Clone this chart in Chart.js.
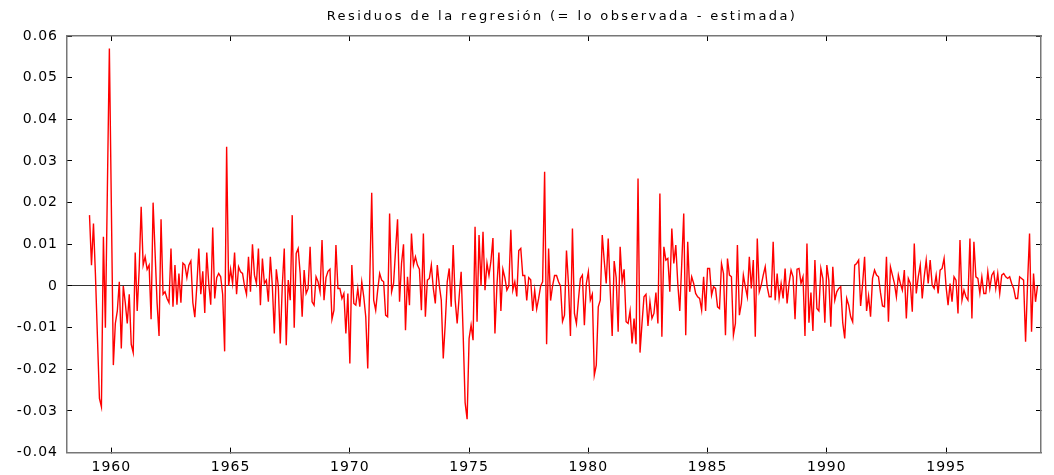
<!DOCTYPE html>
<html>
<head>
<meta charset="utf-8">
<script src="https://cdn.jsdelivr.net/npm/chart.js@4.4.1/dist/chart.umd.min.js"></script>
<style>
    html, body { margin: 0; padding: 0; background: #fff; }
</style>
</head>
<body>
<canvas id="residChart" width="1054" height="475"></canvas>
<script>
// ── data ──────────────────────────────────────────────
const chartTitle = 'Residuos de la regresión (= lo observada - estimada)';
const startYear = 1959;
const startMonth = 2;

// monthly residuals, one row per 12 months
const residuals = [
    0.017, 0.005, 0.015, 0.0026, -0.0124, -0.027, -0.029, 0.0118, -0.010, 0.0234, 0.057, 0.019,
    -0.019, -0.009, -0.006, 0.001, -0.015, 0.000, -0.004, -0.009, -0.002, -0.014, -0.016, 0.008,
    -0.006, 0.004, 0.019, 0.005, 0.007, 0.004, 0.005, -0.008, 0.020, 0.008, -0.004, -0.012,
    0.016, -0.002, -0.0014, -0.003, -0.004, 0.009, -0.005, 0.005, -0.0045, 0.003, -0.004, 0.0055,
    0.005, 0.002, 0.005, 0.006, -0.004, -0.0075, 0.0, 0.009, -0.002, 0.0035, -0.0065, 0.008,
    0.0006, -0.0045, 0.014, -0.003, 0.002, 0.003, 0.0022, -0.002, -0.0157, 0.0334, 0.0, 0.004,
    0.0006, 0.008, -0.002, 0.0046, 0.0034, 0.003, 0.0, -0.002, 0.007, -0.0014, 0.010, 0.0026,
    0.0006, 0.009, -0.0046, 0.0066, 0.0006, 0.0014, -0.0038, 0.007, 0.0, -0.0114, 0.004, 0.0,
    -0.0138, 0.0, 0.009, -0.0142, 0.0014, -0.0034, 0.017, -0.010, 0.0078, 0.009, 0.003, -0.0074,
    0.0038, -0.0018, -0.0006, 0.0094, -0.0038, -0.0046, 0.0022, 0.001, -0.0014, 0.011, -0.0034, 0.002,
    0.0035, 0.004, -0.008, -0.0058, 0.0098, -0.0006, -0.0006, -0.003, -0.0018, -0.0114, -0.0018, -0.0186,
    0.005, -0.0042, -0.0046, -0.0006, -0.005, 0.001, -0.0026, -0.0074, -0.0198, 0.001, 0.0224, -0.0034,
    -0.0058, -0.001, 0.003, 0.0014, 0.001, -0.007, -0.0074, 0.0174, -0.0014, 0.0006, 0.0086, 0.016,
    -0.0038, 0.0054, 0.010, -0.0106, 0.0022, -0.0046, 0.0126, 0.005, 0.007, 0.005, 0.004, -0.0058,
    0.0126, -0.0074, 0.0014, 0.0018, 0.005, -0.0006, -0.0042, 0.005, 0.0002, -0.0034, -0.0174, -0.009,
    0.001, 0.0042, -0.005, 0.0098, -0.0034, -0.009, -0.0026, 0.0034, -0.0114, -0.028, -0.032, -0.0126,
    -0.0094, -0.013, 0.0142, -0.0086, 0.0122, 0.0, 0.013, -0.001, 0.0055, 0.0025, 0.006, 0.0115,
    -0.0114, 0.0, 0.008, -0.006, 0.004, 0.002, -0.001, 0.0, 0.0135, -0.001, 0.001, -0.0025,
    0.0085, 0.009, 0.0025, 0.0025, -0.0035, 0.002, 0.0015, -0.006, -0.001, -0.0055, -0.003, 0.0,
    0.001, 0.0274, -0.014, 0.009, -0.0035, 0.0, 0.0025, 0.0025, 0.001, 0.0, -0.0085, -0.007,
    0.0085, 0.0005, -0.012, 0.0138, -0.0066, -0.009, -0.0034, 0.0018, 0.0026, -0.0094, 0.0006, 0.0034,
    -0.0034, -0.002, -0.0214, -0.019, -0.005, -0.0034, 0.0122, 0.006, 0.0006, 0.0114, -0.001, -0.012,
    0.006, 0.002, -0.011, 0.0094, 0.001, 0.004, -0.0086, -0.009, -0.006, -0.0138, -0.0078, -0.014,
    0.0258, -0.016, -0.009, -0.0026, -0.002, -0.0096, -0.0038, -0.0078, -0.0066, -0.0016, -0.009, 0.0222,
    -0.0122, 0.0094, 0.0062, 0.0066, -0.0014, 0.0138, 0.0054, 0.0098, 0.0006, -0.006, 0.0054, 0.0174,
    -0.0118, 0.0106, -0.0014, 0.0022, 0.0006, -0.0018, -0.0026, -0.003, -0.0058, 0.0022, -0.006, 0.0042,
    0.0042, -0.0022, -0.0002, -0.0006, -0.005, -0.0054, 0.0054, 0.003, -0.0118, 0.0066, 0.0026, 0.0022,
    -0.0118, -0.009, 0.0098, -0.007, -0.0042, 0.0026, -0.0002, -0.0026, 0.007, -0.0006, 0.0062, -0.0122,
    0.0114, -0.0014, 0.0002, 0.0026, 0.0046, -0.0002, -0.0026, -0.0026, 0.0106, -0.0034, 0.003, -0.003,
    0.0006, -0.003, 0.0042, -0.0042, 0.0006, 0.0038, 0.0022, -0.008, 0.004, 0.0042, 0.0006, 0.0022,
    -0.012, 0.0102, -0.0088, -0.0016, -0.0108, 0.0062, -0.0054, -0.006, 0.0042, 0.0018, -0.0088, 0.005,
    0.0014, -0.0098, 0.0046, -0.0034, -0.0014, -0.0006, -0.0002, -0.0088, -0.0126, -0.003, -0.0046, -0.0074,
    -0.0086, 0.005, 0.0054, 0.0062, -0.0048, 0.0005, 0.007, -0.006, -0.0024, -0.0074, 0.0018, 0.0038,
    0.0026, 0.0022, -0.0016, -0.0048, -0.005, 0.007, -0.0086, 0.0046, 0.0026, 0.0006, -0.0026, 0.0026,
    0.0006, -0.001, 0.0038, -0.0078, 0.0018, 0.0006, -0.0062, 0.0102, -0.0018, 0.0022, 0.005, -0.003,
    0.0022, 0.0062, 0.0006, 0.0062, 0.0002, -0.0006, 0.0026, -0.0018, 0.0038, 0.0042, 0.0066, -0.0002,
    -0.0046, 0.0006, -0.0038, 0.0022, 0.0014, -0.0066, 0.011, -0.0034, -0.001, -0.0026, -0.0034, 0.0114,
    -0.0078, 0.0106, 0.0022, 0.0018, -0.0018, 0.0022, -0.0018, -0.0018, 0.0034, -0.0006, 0.0026, 0.0034,
    -0.0006, 0.003, -0.0018, 0.0026, 0.003, 0.0022, 0.0018, 0.0022, 0.0006, -0.0006, -0.003, -0.003,
    0.0022, 0.0018, 0.0014, -0.0134, 0.0006, 0.0126, -0.011, 0.003, -0.0038, 0.0
];

const yearTicks = [1960, 1965, 1970, 1975, 1980, 1985, 1990, 1995];
const valueTicks = [-0.04, -0.03, -0.02, -0.01, 0, 0.01, 0.02, 0.03, 0.04, 0.05, 0.06];
const xRange = [1958.14, 1998.98];
const yRange = [-0.04, 0.06];

// ── chart ─────────────────────────────────────────────
const points = residuals.map((v, i) => ({ x: startYear + (startMonth - 1 + i) / 12, y: v }));

const tickFont = { family: 'DejaVu Sans', size: 14 };
const frameColor = '#777';

const setTicks = list => scale => { scale.ticks = list.map(value => ({ value })); };

// spacing + title, drawn in canvas like the rest
const textStyle = {
    id: 'textStyle',
    beforeDraw(chart) { chart.ctx.letterSpacing = '1px'; },
    afterDraw(chart) {
        const ctx = chart.ctx;
        ctx.save();
        ctx.letterSpacing = '2.4px';
        ctx.font = '13px "DejaVu Sans"';
        ctx.fillStyle = '#000';
        ctx.textAlign = 'center';
        ctx.textBaseline = 'middle';
        ctx.fillText(chartTitle, 562, 17);
        ctx.restore();
    }
};

new Chart(document.getElementById('residChart'), {
    type: 'line',
    data: {
        datasets: [{
            data: points,
            borderColor: '#ff0000',
            borderWidth: 1.4,
            pointRadius: 0,
            tension: 0,
            fill: false
        }]
    },
    options: {
        responsive: false,
        animation: false,
        devicePixelRatio: 1,
        layout: { padding: { top: 36, right: 13, bottom: 0, left: 0 } },
        plugins: {
            legend: { display: false },
            tooltip: { enabled: false }
        },
        scales: {
            x: {
                type: 'linear',
                position: 'bottom',
                min: xRange[0],
                max: xRange[1],
                afterBuildTicks: setTicks(yearTicks),
                afterFit: s => { s.height = 22; },
                ticks: { font: tickFont, color: '#000', padding: 11, maxRotation: 0, autoSkip: false, callback: v => String(v) },
                grid: { drawOnChartArea: false, tickLength: -5, tickColor: '#000' },
                border: { color: frameColor, width: 1.5 }
            },
            xTop: {
                type: 'linear',
                position: 'top',
                min: xRange[0],
                max: xRange[1],
                afterBuildTicks: setTicks(yearTicks),
                afterFit: s => { s.height = 0; },
                ticks: { display: false },
                grid: { drawOnChartArea: false, tickLength: -5, tickColor: '#000' },
                border: { color: frameColor, width: 1.5 }
            },
            y: {
                position: 'left',
                min: yRange[0],
                max: yRange[1],
                afterBuildTicks: setTicks(valueTicks),
                afterFit: s => { s.width = 67; },
                ticks: { font: tickFont, color: '#000', padding: 14, callback: v => v === 0 ? '0' : v.toFixed(2) },
                grid: {
                    color: c => (c.tick && c.tick.value === 0) ? '#333' : 'rgba(0,0,0,0)',
                    tickColor: '#000',
                    tickLength: -5
                },
                border: { color: frameColor, width: 1.5 }
            },
            yRight: {
                position: 'right',
                min: yRange[0],
                max: yRange[1],
                afterBuildTicks: setTicks(valueTicks),
                afterFit: s => { s.width = 0; },
                ticks: { display: false },
                grid: { drawOnChartArea: false, tickLength: -5, tickColor: '#000' },
                border: { color: frameColor, width: 1.5 }
            }
        }
    },
    plugins: [textStyle]
});
</script>
</body>
</html>
